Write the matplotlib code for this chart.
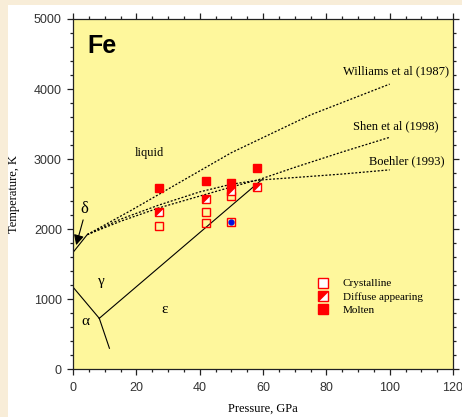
"""Fe phase diagram with melting curves and the diffraction points."""
import matplotlib
matplotlib.use("Agg")
import matplotlib.pyplot as plt
from matplotlib.patches import Rectangle
from matplotlib.legend_handler import HandlerTuple
from matplotlib.ticker import MultipleLocator

# --- data -------------------------------------------------------------------
# melting curves (GPa, K)
williams_p = [4.5, 18.5, 35, 50, 75, 100]
williams_t = [1920, 2270, 2700, 3090, 3630, 4070]
shen_p = [4.5, 15, 27, 40, 50, 59, 70, 85, 100]
shen_t = [1920, 2110, 2300, 2470, 2600, 2710, 2880, 3100, 3310]
boehler_p = [4.5, 15, 27, 40, 50, 59, 70, 85, 100]
boehler_t = [1920, 2140, 2340, 2530, 2640, 2700, 2735, 2785, 2845]

# solid phase boundaries
delta_p = [0, 4.5]
delta_t = [1665, 1920]
alpha_gamma_p = [0, 8.3]
alpha_gamma_t = [1170, 724]
alpha_eps_p = [8.3, 11.5]
alpha_eps_t = [724, 296]
gamma_eps_p = [8.3, 59.5]
gamma_eps_t = [724, 2700]

# diffraction points
cryst_p = [27, 42, 42, 50, 50]
cryst_t = [2043, 2247, 2090, 2476, 2104]
diffuse_p = [27, 42, 50, 58]
diffuse_t = [2247, 2424, 2548, 2595]
molten_p = [27, 42, 50, 58]
molten_t = [2590, 2686, 2652, 2867]
blue_p = [50]
blue_t = [2104]

# text placed on the chart
curve_labels = ["Williams et al (1987)", "Shen et al (1998)", "Boehler (1993)"]
curve_label_pos = [(85.2, 4257), (88.3, 3462), (93.4, 2962)]
phase_labels = ["liquid", "\u03b3", "\u03b1", "\u03b5"]
phase_label_pos = [(24, 3081), (9.1, 1248), (3.8, 676), (28.8, 843)]

SERIF = "Liberation Serif"
SANS = "Liberation Sans"
YELLOW = "#FEF79C"
RED = "#FF0000"
INK = "#222222"
HALF = [(-1, -1), (-1, 1), (1, 1), (-1, -1)]   # upper-left triangle

fig = plt.figure(figsize=(4.62, 4.17), dpi=100, facecolor="#F8EDD8")
fig.patches.append(Rectangle((8 / 462, 0), 454 / 462, 412 / 417, transform=fig.transFigure,
                             facecolor="white", edgecolor="none", zorder=-10))
ax = fig.add_axes([73 / 462, 1 - 369 / 417, 380 / 462, 350 / 417])
ax.set_facecolor(YELLOW)

# melting curves
dots = dict(color="black", lw=0.9, ls=(0, (1.6, 1.4)))
ax.plot(williams_p, williams_t, **dots)
ax.plot(shen_p, shen_t, **dots)
ax.plot(boehler_p, boehler_t, **dots)

# solid-solid boundaries
solid = dict(color="black", lw=0.8)
for px, ty in [(delta_p, delta_t), (alpha_gamma_p, alpha_gamma_t),
               (alpha_eps_p, alpha_eps_t), (gamma_eps_p, gamma_eps_t)]:
    ax.plot(px, ty, **solid)

# points
ms = 5.5
ax.plot(cryst_p, cryst_t, "s", ms=ms, mfc="none", mec=RED, mew=1.0, zorder=4)
ax.plot(diffuse_p, diffuse_t, "s", ms=ms, mfc="white", mec=RED, mew=1.0, zorder=4)
ax.plot(diffuse_p, diffuse_t, marker=HALF, ls="none", ms=ms, mfc=RED, mec=RED,
        mew=0.5, zorder=5)
ax.plot(molten_p, molten_t, "s", ms=ms, mfc=RED, mec=RED, mew=1.0, zorder=6)
ax.plot(blue_p, blue_t, "o", ms=3.5, color="#0010E0", zorder=7)

# legend, built from proxies so the crystalline box is white
h_cryst, = ax.plot([], [], "s", ms=ms, mfc="white", mec=RED, mew=1.0)
h_diff_box, = ax.plot([], [], "s", ms=ms, mfc="white", mec=RED, mew=1.0)
h_diff_tri, = ax.plot([], [], marker=HALF, ls="none", ms=ms, mfc=RED, mec=RED, mew=0.5)
h_molten, = ax.plot([], [], "s", ms=ms, mfc=RED, mec=RED)
ax.legend([h_cryst, (h_diff_box, h_diff_tri), h_molten],
          ["Crystalline", "Diffuse appearing", "Molten"],
          handler_map={tuple: HandlerTuple(ndivide=1, pad=0)},
          loc="upper left", bbox_to_anchor=(0.642, 0.258), frameon=False,
          borderpad=0, borderaxespad=0, handlelength=1.0, handletextpad=1.3,
          labelspacing=0.3, markerscale=1.25, prop={"family": SERIF, "size": 8})

# labels in the plot
ax.text(4.4, 4614, "Fe", fontfamily=SANS, fontweight="bold", fontsize=18, va="center")
for s, (x, y) in zip(curve_labels, curve_label_pos):
    ax.text(x, y, s, fontfamily=SERIF, fontsize=9, va="center")
for s, (x, y) in zip(phase_labels, phase_label_pos):
    size = 9 if s == "liquid" else 11
    ax.text(x, y, s, fontfamily=SERIF, fontsize=size, ha="center", va="center")
ax.text(3.5, 2290, "\u03b4", fontfamily=SERIF, fontsize=12, ha="center", va="center")
ax.annotate("", xy=(1.0, 1770), xytext=(3.2, 2130),
            arrowprops=dict(arrowstyle="-|>", color="black", lw=0.8, mutation_scale=15,
                            shrinkA=0, shrinkB=0))

# axes
ax.set_xlim(0, 120)
ax.set_ylim(0, 5000)
ax.xaxis.set_major_locator(MultipleLocator(20))
ax.xaxis.set_minor_locator(MultipleLocator(5))
ax.yaxis.set_major_locator(MultipleLocator(1000))
ax.yaxis.set_minor_locator(MultipleLocator(200))
ax.tick_params(which="both", direction="out", top=True, right=True, color=INK,
               labelcolor="#333333", labelsize=9, width=0.9)
ax.tick_params(which="major", length=4.5)
ax.tick_params(which="minor", length=2.5)
ax.tick_params(axis="x", pad=5)
ax.tick_params(axis="y", pad=3.5)
for lab in ax.get_xticklabels() + ax.get_yticklabels():
    lab.set_fontfamily(SANS)
for sp in ax.spines.values():
    sp.set_color(INK)
    sp.set_linewidth(0.9)

ax.set_xlabel("Pressure, GPa", fontfamily=SERIF, fontsize=9)
ax.set_ylabel("Temperature, K", fontfamily=SERIF, fontsize=9)
ax.xaxis.set_label_coords(0.5, -0.097)
ax.yaxis.set_label_coords(-0.139, 0.5)

fig.savefig("out.png", dpi=100, facecolor=fig.get_facecolor())
